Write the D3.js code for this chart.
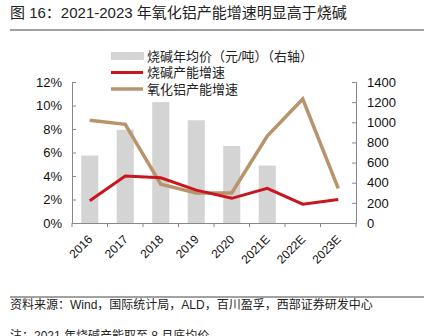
<!DOCTYPE html>
<html>
<head>
<meta charset="utf-8">
<script src="https://cdn.jsdelivr.net/npm/d3@7/dist/d3.min.js"></script>
<style>
  body { margin: 0; background: #fff; }
  svg { display: block; }
  svg text { font-family: "Liberation Sans", Arial, "Noto Sans CJK SC", sans-serif; }
  .cjk { font-family: "Liberation Sans", "Noto Sans CJK SC", sans-serif; }
</style>
</head>
<body>
<div id="chart"></div>
<script>
const years = ["2016", "2017", "2018", "2019", "2020", "2021E", "2022E", "2023E"];
const causticPrice = [670, 925, 1200, 1020, 765, 570, null, null];      // 元/吨, right axis
const causticGrowth = [1.9, 4.0, 3.85, 2.8, 2.1, 2.95, 1.6, 2.0];       // %, left axis
const aluminaGrowth = [8.75, 8.4, 3.3, 2.55, 2.55, 7.4, 10.55, 2.95];   // %, left axis
const leftTicks = [0, 2, 4, 6, 8, 10, 12];
const rightTicks = [0, 200, 400, 600, 800, 1000, 1200, 1400];

const width = 424, height = 336;
const margin = { left: 72, right: 68, top: 82, bottom: 113 };
const innerWidth = width - margin.left - margin.right;
const innerHeight = height - margin.top - margin.bottom;

const svg = d3.select("#chart").append("svg")
  .attr("width", width)
  .attr("height", height);

// title + rule
svg.append("text")
  .attr("class", "cjk")
  .attr("x", 10).attr("y", 18)
  .attr("font-size", 15)
  .attr("fill", "#222")
  .text("图 16：2021-2023 年氧化铝产能增速明显高于烧碱");
svg.append("line")
  .attr("x1", 10).attr("x2", width).attr("y1", 30).attr("y2", 30)
  .attr("stroke", "#444").attr("stroke-width", 1);

const g = svg.append("g")
  .attr("transform", `translate(${margin.left},${margin.top})`);

const x = d3.scaleBand().domain(years).range([0, innerWidth]);
const yLeft = d3.scaleLinear().domain([0, 12]).range([innerHeight, 0]);
const yRight = d3.scaleLinear().domain([0, 1400]).range([innerHeight, 0]);

// price bars
g.selectAll(".bar")
  .data(years.map((d, i) => ({ year: d, v: causticPrice[i] })).filter(d => d.v != null))
  .enter().append("rect")
  .attr("class", "bar")
  .attr("x", d => x(d.year) + x.bandwidth() * 0.26)
  .attr("width", x.bandwidth() * 0.48)
  .attr("y", d => yRight(d.v))
  .attr("height", d => innerHeight - yRight(d.v))
  .attr("fill", "#d4d4d4");

const line = (vals) => d3.line()
  .x((d, i) => x(years[i]) + x.bandwidth() / 2)
  .y(d => yLeft(d))(vals);

g.append("path")
  .attr("d", line(aluminaGrowth))
  .attr("fill", "none")
  .attr("stroke", "#b8946c")
  .attr("stroke-width", 3.5);

g.append("path")
  .attr("d", line(causticGrowth))
  .attr("fill", "none")
  .attr("stroke", "#c8161e")
  .attr("stroke-width", 3);

// axes
const axisColor = "#888";
const xAxis = g.append("g")
  .attr("transform", `translate(0,${innerHeight})`)
  .call(d3.axisBottom(x).tickSize(0));
xAxis.selectAll(".tick text")
  .attr("font-size", 12)
  .attr("fill", "#111")
  .attr("text-anchor", "end")
  .attr("x", 0).attr("y", 0).attr("dy", 0)
  .attr("transform", "translate(3.5,17) rotate(-45)");
// boundary ticks between categories
g.selectAll(".xb")
  .data(d3.range(years.length + 1))
  .enter().append("line")
  .attr("x1", i => i * x.step()).attr("x2", i => i * x.step())
  .attr("y1", innerHeight).attr("y2", innerHeight + 4)
  .attr("stroke", axisColor);

const leftAxis = g.append("g")
  .call(d3.axisLeft(yLeft).tickValues(leftTicks).tickSize(-4).tickPadding(10)
    .tickFormat(d => d + "%"));
const rightAxis = g.append("g")
  .attr("transform", `translate(${innerWidth},0)`)
  .call(d3.axisRight(yRight).tickValues(rightTicks).tickSize(-4).tickPadding(11)
    .tickFormat(d3.format("d")));

[xAxis, leftAxis, rightAxis].forEach(a => {
  a.select(".domain").attr("stroke", axisColor);
  a.selectAll(".tick line").attr("stroke", axisColor);
});
[leftAxis, rightAxis].forEach(a => a.selectAll(".tick text").attr("font-size", 13).attr("fill", "#111"));

// legend
const legend = svg.append("g");
const items = [
  { label: "烧碱年均价（元/吨）（右轴）", type: "bar", color: "#d4d4d4", y: 56 },
  { label: "烧碱产能增速", type: "line", color: "#c8161e", w: 3, y: 72.5 },
  { label: "氧化铝产能增速", type: "line", color: "#b8946c", w: 3.5, y: 89 }
];
items.forEach(it => {
  if (it.type === "bar") {
    legend.append("rect").attr("x", 111).attr("y", it.y - 4).attr("width", 33).attr("height", 8)
      .attr("fill", it.color);
  } else {
    legend.append("line").attr("x1", 111).attr("x2", 143).attr("y1", it.y).attr("y2", it.y)
      .attr("stroke", it.color).attr("stroke-width", it.w);
  }
  legend.append("text").attr("class", "cjk")
    .attr("x", 147).attr("y", it.y).attr("dy", "0.36em")
    .attr("font-size", 13).attr("fill", "#222")
    .text(it.label);
});

// source and note
svg.append("line")
  .attr("x1", 10).attr("x2", width).attr("y1", 297).attr("y2", 297)
  .attr("stroke", "#444").attr("stroke-width", 1);
svg.append("text").attr("class", "cjk")
  .attr("x", 10).attr("y", 305).attr("dy", "0.36em")
  .attr("font-size", 12).attr("fill", "#222")
  .text("资料来源：Wind，国际统计局，ALD，百川盈孚，西部证券研发中心");
svg.append("text").attr("class", "cjk")
  .attr("x", 10).attr("y", 335.5).attr("dy", "0.36em")
  .attr("font-size", 12).attr("fill", "#222")
  .text("注：2021 年烧碱产能取至 8 月底均价");
</script>
</body>
</html>
